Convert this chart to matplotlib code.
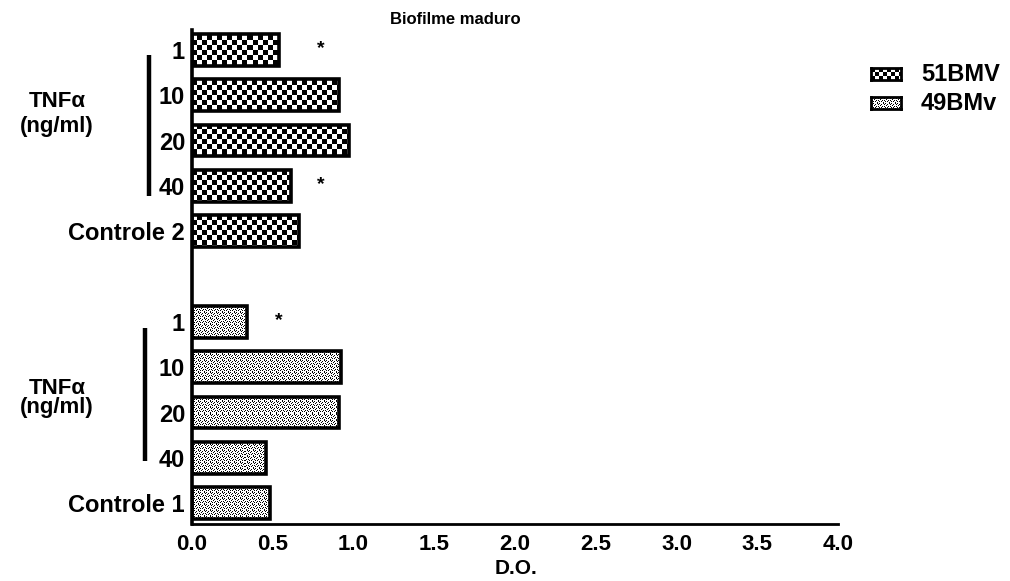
import numpy as np
import matplotlib
matplotlib.use('Agg')
import matplotlib.pyplot as plt
from matplotlib.transforms import blended_transform_factory

plt.rcParams['font.family'] = ['Liberation Sans', 'DejaVu Sans']
plt.rcParams['font.weight'] = 'bold'

# ---------------- data ----------------
title = 'Biofilme maduro'
xlabel = 'D.O.'
series_names = ['51BMV', '49BMv']
labels_51 = ['Controle 2', '40', '20', '10', '1']
values_51 = [0.66, 0.61, 0.97, 0.91, 0.54]
star_x_51 = [None, 0.80, None, None, 0.80]
labels_49 = ['Controle 1', '40', '20', '10', '1']
values_49 = [0.48, 0.46, 0.91, 0.92, 0.34]
star_x_49 = [None, None, None, None, 0.54]
xticks = [0.0, 0.5, 1.0, 1.5, 2.0, 2.5, 3.0, 3.5, 4.0]
group_label = ['TNF\u03b1', '(ng/ml)']

pos_49 = np.arange(len(values_49))
pos_51 = np.arange(len(values_51)) + len(values_49) + 1

W, H = 1010, 581
fig = plt.figure(figsize=(W / 100, H / 100), dpi=100)
ax_w, ax_h = 646, 494
ax = fig.add_axes([192 / W, (H - 524) / H, ax_w / W, ax_h / H])
XLIM = (0, 4.0)
YLIM = (-0.46, 10.44)


def checker(h, w, cell=5):
    yy, xx = np.mgrid[0:h, 0:w]
    c = ((yy // cell) + (xx // cell)) % 2
    return c.astype(float)


def dotted(h, w):
    motif = np.array([
        [0, 1, 0, 1, 1, 1],
        [1, 0, 1, 1, 0, 1],
        [1, 1, 1, 0, 1, 1],
        [1, 0, 1, 1, 1, 0],
        [1, 1, 0, 1, 0, 1],
        [0, 1, 1, 1, 1, 1],
    ], dtype=float)
    reps = (h // motif.shape[0] + 1, w // motif.shape[1] + 1)
    return np.tile(motif, reps)[:h, :w]


pat51 = checker(ax_h, ax_w)
pat49 = dotted(ax_h, ax_w)

for pos, vals, stars, pat in [(pos_51, values_51, star_x_51, pat51),
                              (pos_49, values_49, star_x_49, pat49)]:
    bars = ax.barh(pos, vals, height=0.7, facecolor='none', edgecolor='black',
                   linewidth=2.6, zorder=3)
    for b in bars:
        im = ax.imshow(pat, cmap='gray', vmin=0, vmax=1, extent=(*XLIM, *YLIM),
                       aspect='auto', interpolation='nearest', zorder=2,
                       origin='upper')
        im.set_clip_path(b)
    for p, sx in zip(pos, stars):
        if sx is not None:
            ax.text(sx, p + 0.02, '*', ha='center', va='center',
                    fontsize=14, zorder=4)

ax.set_xlim(*XLIM)
ax.set_ylim(*YLIM)
ax.set_yticks(list(pos_49) + list(pos_51))
ax.set_yticklabels(labels_49 + labels_51, fontsize=17, fontweight='bold')
ax.set_xticks(xticks)
ax.set_xticklabels([f'{t:.1f}' for t in xticks], fontsize=16, fontweight='bold')
ax.tick_params(axis='both', length=0)
ax.tick_params(axis='x', pad=7)
ax.tick_params(axis='y', pad=5)
for s in ['top', 'right']:
    ax.spines[s].set_visible(False)
ax.spines['left'].set_linewidth(2.6)
ax.spines['bottom'].set_linewidth(2.0)
fig.text(516 / W, 1 - 568 / H, xlabel, ha='center', va='center', fontsize=15,
         fontweight='bold')

fig.text(455 / W, 1 - 20 / H, title, ha='center', va='center', fontsize=12,
         fontweight='bold')

# group brackets and labels
bt = blended_transform_factory(fig.transFigure, ax.transData)
ax.plot([149 / W, 149 / W], [pos_51[-1] - 0.11, pos_51[1] - 0.22], transform=bt,
        color='black', lw=3.2, clip_on=False, solid_capstyle='butt')
ax.plot([145 / W, 145 / W], [pos_49[-1] - 0.13, pos_49[1] - 0.07], transform=bt,
        color='black', lw=3.2, clip_on=False, solid_capstyle='butt')
for yc1, yc2 in [(8.86, 8.30), (2.54, 2.10)]:
    ax.text(57 / W, yc1, group_label[0], transform=bt, ha='center', va='center',
            fontsize=16, fontweight='bold')
    ax.text(57 / W, yc2, group_label[1], transform=bt, ha='center', va='center',
            fontsize=16, fontweight='bold')

# legend
for i, (name, pat) in enumerate(zip(series_names, [checker(12, 30, 4), dotted(12, 30)])):
    y0 = 68 + i * 29
    lax = fig.add_axes([871 / W, 1 - (y0 + 12) / H, 30 / W, 12 / H])
    lax.imshow(pat, cmap='gray', vmin=0, vmax=1, aspect='auto',
               interpolation='nearest')
    lax.set_xticks([])
    lax.set_yticks([])
    for sp in lax.spines.values():
        sp.set_linewidth(2)
    fig.text(921 / W, 1 - (y0 + 6) / H, name, ha='left', va='center',
             fontsize=17, fontweight='bold')

fig.savefig('out.png', dpi=100)
